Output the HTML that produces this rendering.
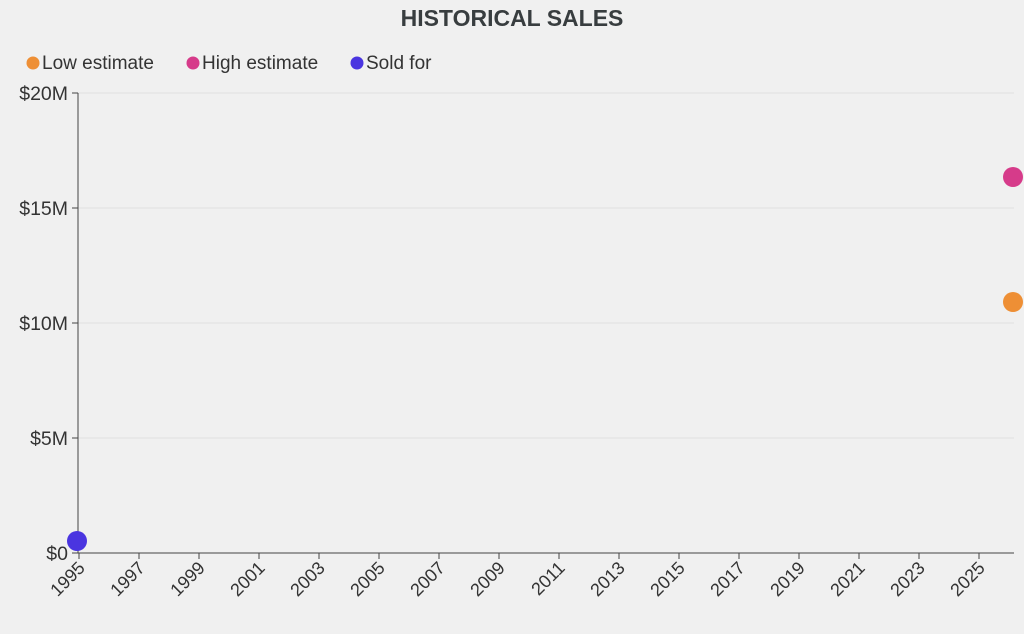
<!DOCTYPE html>
<html><head><style>
body{margin:0;background:#f0f0f0;}
svg{display:block;font-family:"Liberation Sans",sans-serif;}
</style></head><body>
<svg width="1024" height="634" viewBox="0 0 1024 634">
<rect width="1024" height="634" fill="#f0f0f0"/>
<text x="512" y="26" text-anchor="middle" font-size="23" font-weight="bold" fill="#383d3f">HISTORICAL SALES</text>
<circle cx="33" cy="63" r="6.5" fill="#ee8f35"/><text x="42" y="69" font-size="19" fill="#333">Low estimate</text>
<circle cx="193" cy="63" r="6.5" fill="#d63b8a"/><text x="202" y="69" font-size="19" fill="#333">High estimate</text>
<circle cx="357" cy="63" r="6.5" fill="#4a35e0"/><text x="366" y="69" font-size="19" fill="#333">Sold for</text>
<g stroke="#e0e0e0" stroke-width="1">
<line x1="78" x2="1014" y1="93" y2="93"/><line x1="78" x2="1014" y1="208" y2="208"/>
<line x1="78" x2="1014" y1="323" y2="323"/><line x1="78" x2="1014" y1="438" y2="438"/>
</g>
<g font-size="19.5" fill="#333" text-anchor="end">
<text x="68" y="100">$20M</text><text x="68" y="215">$15M</text><text x="68" y="330">$10M</text><text x="68" y="445">$5M</text><text x="68" y="560">$0</text>
</g>
<g stroke="#444" stroke-width="1">
<line x1="78" x2="78" y1="93" y2="553"/><line x1="78" x2="1014" y1="553" y2="553"/>
<line x1="72" x2="78" y1="93" y2="93"/><line x1="72" x2="78" y1="208" y2="208"/><line x1="72" x2="78" y1="323" y2="323"/><line x1="72" x2="78" y1="438" y2="438"/><line x1="72" x2="78" y1="553" y2="553"/>
<line x1="79" x2="79" y1="553" y2="559"/><line x1="139" x2="139" y1="553" y2="559"/><line x1="199" x2="199" y1="553" y2="559"/><line x1="259" x2="259" y1="553" y2="559"/><line x1="319" x2="319" y1="553" y2="559"/><line x1="379" x2="379" y1="553" y2="559"/><line x1="439" x2="439" y1="553" y2="559"/><line x1="499" x2="499" y1="553" y2="559"/><line x1="559" x2="559" y1="553" y2="559"/><line x1="619" x2="619" y1="553" y2="559"/><line x1="679" x2="679" y1="553" y2="559"/><line x1="739" x2="739" y1="553" y2="559"/><line x1="799" x2="799" y1="553" y2="559"/><line x1="859" x2="859" y1="553" y2="559"/><line x1="919" x2="919" y1="553" y2="559"/><line x1="979" x2="979" y1="553" y2="559"/>
</g>
<g font-size="18" fill="#333" text-anchor="end">
<text transform="translate(86,569) rotate(-45)">1995</text>
<text transform="translate(146,569) rotate(-45)">1997</text>
<text transform="translate(206,569) rotate(-45)">1999</text>
<text transform="translate(266,569) rotate(-45)">2001</text>
<text transform="translate(326,569) rotate(-45)">2003</text>
<text transform="translate(386,569) rotate(-45)">2005</text>
<text transform="translate(446,569) rotate(-45)">2007</text>
<text transform="translate(506,569) rotate(-45)">2009</text>
<text transform="translate(566,569) rotate(-45)">2011</text>
<text transform="translate(626,569) rotate(-45)">2013</text>
<text transform="translate(686,569) rotate(-45)">2015</text>
<text transform="translate(746,569) rotate(-45)">2017</text>
<text transform="translate(806,569) rotate(-45)">2019</text>
<text transform="translate(866,569) rotate(-45)">2021</text>
<text transform="translate(926,569) rotate(-45)">2023</text>
<text transform="translate(986,569) rotate(-45)">2025</text>
</g>
<circle cx="77" cy="541" r="10" fill="#4a35e0"/>
<circle cx="1013" cy="177" r="10" fill="#d63b8a"/>
<circle cx="1013" cy="302" r="10" fill="#ee8f35"/>
</svg>
</body></html>
